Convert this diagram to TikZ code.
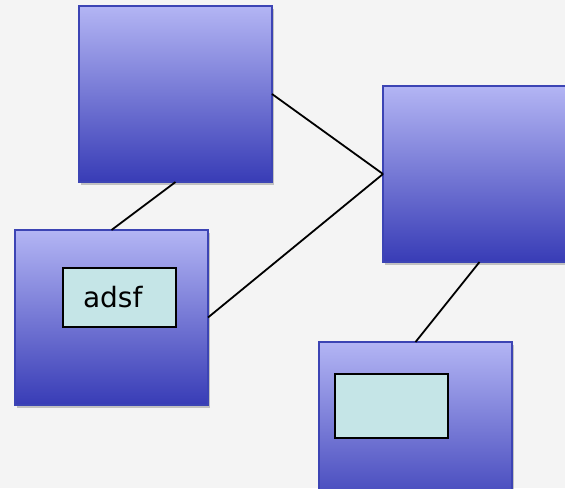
\documentclass[tikz,border=0pt]{standalone}
\usepackage{fontspec}
\setmainfont{DejaVu Sans}
\usetikzlibrary{shadows}
\definecolor{bgc}{HTML}{F4F4F4}
\definecolor{topc}{HTML}{B3B5F4}
\definecolor{botc}{HTML}{383CB6}
\definecolor{edgec}{HTML}{3C44B4}
\definecolor{innerc}{HTML}{C5E5E7}
\tikzset{
  bigbox/.style={draw=edgec, line width=2.2pt, top color=topc, bottom color=botc,
    minimum width=193pt, minimum height=176pt, anchor=north west, inner sep=0pt, outer sep=0pt,
    drop shadow={shadow xshift=1.5pt, shadow yshift=-3pt, opacity=0.3, fill=black!70}},
  innerbox/.style={draw=black, line width=2.2pt, fill=innerc, anchor=north west, outer sep=0pt,
    inner ysep=0pt, minimum height=59pt, font=\fontsize{28}{30}\selectfont},
  link/.style={draw=black, line width=1.8pt}
}
\begin{document}
\begin{tikzpicture}[x=1pt, y=-1pt]
\fill[bgc] (0,0) rectangle (565,488);
\useasboundingbox (0,0) rectangle (565,488);
\clip (0,0) rectangle (565,488);
\node[bigbox] (A) at (79,6) {};
\node[bigbox, minimum height=176pt] (B) at (383,86) {};
\node[bigbox, minimum height=175pt] (C) at (15,230) {};
\node[bigbox] (D) at (319,342) {};
\node[innerbox, inner xsep=20pt, text width=73pt, align=left] (Ci) at (63,268) {\raisebox{-3pt}{adsf}};
\node[innerbox, minimum width=113pt, minimum height=64pt, inner sep=0pt] (Di) at (335,374) {};
\coordinate (Bw) at (B.west);
\draw[link] (A.south) -- (C.north);
\draw[link] (A.east) -- (Bw);
\draw[link] (C.east) -- (Bw);
\draw[link] (B.south) -- (D.north);
\end{tikzpicture}
\end{document}
